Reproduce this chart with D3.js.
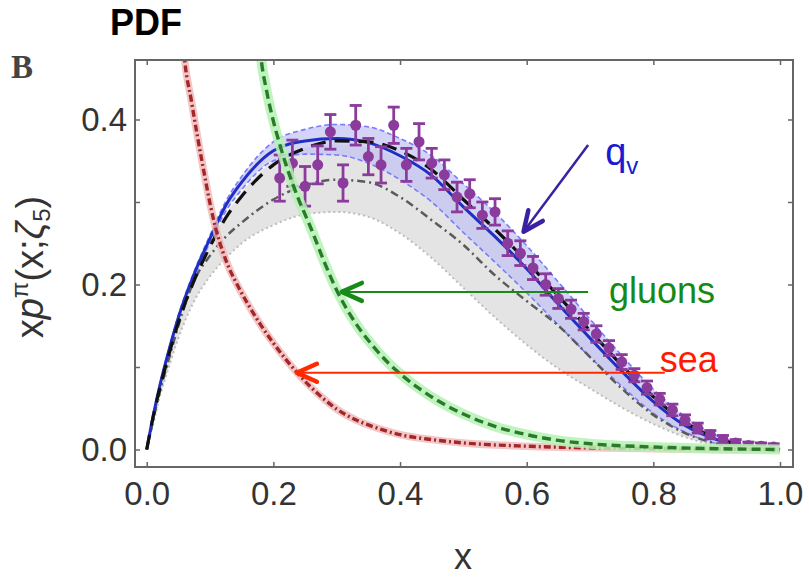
<!DOCTYPE html>
<html><head><meta charset="utf-8">
<script src="https://cdn.jsdelivr.net/npm/d3@7"></script>
<style>body{margin:0;background:#fff}svg{display:block}</style>
</head><body><svg id="c" width="809" height="581"></svg>
<script>
// ---------- data ----------
const xTicks = [0, 0.2, 0.4, 0.6, 0.8, 1.0];
const xTickLabels = ["0.0", "0.2", "0.4", "0.6", "0.8", "1.0"];
const yTicks = [0, 0.1, 0.2, 0.3, 0.4];
const yTickLabels = ["0.0", "", "0.2", "", "0.4"];

// common x grid for valence curves / bands
const gridX = [0, 0.01, 0.02, 0.035, 0.05, 0.075, 0.1, 0.125, 0.15, 0.2, 0.25, 0.3, 0.35, 0.4, 0.45, 0.5, 0.55, 0.6, 0.65, 0.7, 0.75, 0.8, 0.85, 0.9, 0.95, 1.0];
const qvY     = [0, 0.040, 0.075, 0.120, 0.160, 0.213, 0.256, 0.296, 0.324, 0.362, 0.374, 0.377, 0.372, 0.356, 0.332, 0.294, 0.258, 0.219, 0.176, 0.135, 0.095, 0.058, 0.029, 0.012, 0.003, 0];
const qvUpper = [0, 0.041, 0.077, 0.122, 0.163, 0.216, 0.260, 0.301, 0.331, 0.373, 0.388, 0.394, 0.391, 0.377, 0.356, 0.322, 0.287, 0.247, 0.203, 0.158, 0.114, 0.073, 0.040, 0.017, 0.005, 0];
const qvLower = [0, 0.039, 0.073, 0.117, 0.157, 0.209, 0.251, 0.289, 0.315, 0.350, 0.358, 0.357, 0.347, 0.327, 0.300, 0.263, 0.227, 0.190, 0.151, 0.112, 0.077, 0.044, 0.021, 0.007, 0.001, 0];
const blackY  = [0, 0.039, 0.072, 0.115, 0.154, 0.205, 0.246, 0.281, 0.307, 0.345, 0.365, 0.374, 0.373, 0.362, 0.339, 0.303, 0.267, 0.228, 0.186, 0.144, 0.102, 0.064, 0.033, 0.014, 0.004, 0];
const greyY   = [0, 0.035, 0.068, 0.110, 0.150, 0.205, 0.235, 0.258, 0.275, 0.303, 0.320, 0.327, 0.324, 0.306, 0.278, 0.248, 0.211, 0.180, 0.150, 0.112, 0.074, 0.042, 0.020, 0.007, 0.002, 0];
const greyUpper = [0, 0.040, 0.074, 0.118, 0.156, 0.208, 0.250, 0.285, 0.312, 0.350, 0.366, 0.370, 0.366, 0.352, 0.328, 0.292, 0.256, 0.217, 0.176, 0.134, 0.094, 0.058, 0.029, 0.011, 0.003, 0];
const greyLower = [0, 0.030, 0.062, 0.100, 0.135, 0.180, 0.210, 0.232, 0.250, 0.272, 0.285, 0.288, 0.282, 0.262, 0.232, 0.196, 0.160, 0.127, 0.098, 0.074, 0.051, 0.031, 0.015, 0.005, 0.001, 0];

// sea
const seaX = [0.055, 0.06, 0.07, 0.08, 0.09, 0.1, 0.11, 0.12, 0.13, 0.14, 0.16, 0.18, 0.2, 0.22, 0.24, 0.26, 0.28, 0.3, 0.33, 0.36, 0.4, 0.45, 0.5, 0.6, 0.7, 0.8, 0.9, 1.0];
const seaY = [0.52, 0.472, 0.425, 0.380, 0.338, 0.298, 0.265, 0.240, 0.220, 0.204, 0.176, 0.151, 0.129, 0.109, 0.091, 0.075, 0.061, 0.049, 0.036, 0.027, 0.018, 0.012, 0.008, 0.004, 0.002, 0.001, 0.0003, 0];

// gluons
const gluX = [0.175, 0.18, 0.19, 0.2, 0.21, 0.22, 0.23, 0.24, 0.25, 0.26, 0.28, 0.3, 0.32, 0.34, 0.36, 0.38, 0.4, 0.43, 0.46, 0.5, 0.55, 0.6, 0.65, 0.7, 0.8, 0.9, 1.0];
const gluY = [0.52, 0.478, 0.432, 0.398, 0.370, 0.345, 0.323, 0.303, 0.285, 0.267, 0.228, 0.193, 0.165, 0.142, 0.123, 0.106, 0.092, 0.074, 0.059, 0.043, 0.028, 0.018, 0.011, 0.007, 0.003, 0.001, 0];

// data points
const ptX = [0.21, 0.23, 0.25, 0.27, 0.29, 0.31, 0.33, 0.35, 0.37, 0.39, 0.41, 0.43, 0.45, 0.47, 0.49, 0.51, 0.53, 0.55, 0.57, 0.59, 0.61, 0.63, 0.65, 0.67, 0.69, 0.71, 0.73, 0.75, 0.77, 0.79, 0.81, 0.83, 0.85, 0.87, 0.89, 0.91, 0.93, 0.95, 0.97, 0.99];
const ptY = [0.329, 0.347, 0.319, 0.345, 0.385, 0.323, 0.393, 0.355, 0.345, 0.393, 0.345, 0.373, 0.347, 0.333, 0.306, 0.310, 0.284, 0.288, 0.250, 0.238, 0.220, 0.200, 0.183, 0.170, 0.155, 0.140, 0.123, 0.106, 0.090, 0.075, 0.061, 0.048, 0.036, 0.026, 0.018, 0.012, 0.008, 0.005, 0.004, 0.003];
const ptErr = [0.028, 0.028, 0.024, 0.023, 0.021, 0.022, 0.024, 0.022, 0.022, 0.022, 0.020, 0.022, 0.018, 0.018, 0.018, 0.017, 0.016, 0.016, 0.015, 0.015, 0.014, 0.013, 0.012, 0.011, 0.010, 0.010, 0.009, 0.009, 0.008, 0.008, 0.007, 0.007, 0.006, 0.006, 0.005, 0.005, 0.004, 0.004, 0.004, 0.004];

// annotations (data coordinates)
const qvArrow = {from: [0.697, 0.369], to: [0.595, 0.264]};
const gluArrow = {from: [0.697, 0.191], to: [0.308, 0.191]};
const seaArrow = {from: [0.818, 0.093], to: [0.237, 0.093]};

// ---------- drawing ----------
const L = 135, R = 793, T = 60, B = 467;
const svg = d3.select("#c");
const x = d3.scaleLinear().domain([-0.0185, 1.0205]).range([L, R]);
const y = d3.scaleLinear().domain([-0.0212, 0.4721]).range([B, T]);
const font = "'Liberation Sans', Arial, Helvetica, sans-serif";

svg.append("defs").append("clipPath").attr("id", "clip")
  .append("rect").attr("x", L).attr("y", T).attr("width", R - L).attr("height", B - T);

const plot = svg.append("g").attr("clip-path", "url(#clip)");

const bandArea = (up, lo) => d3.area()
  .x((d, i) => x(gridX[i])).y0((d, i) => y(lo[i])).y1((d, i) => y(up[i]))
  .curve(d3.curveMonotoneX)(gridX);
const gridLine = ys => d3.line().x((d, i) => x(gridX[i])).y((d, i) => y(ys[i])).curve(d3.curveMonotoneX)(gridX);
const xyLine = (xs, ys) => d3.line().x((d, i) => x(xs[i])).y((d, i) => y(ys[i])).curve(d3.curveMonotoneX)(xs);

// grey band
plot.append("path").attr("d", bandArea(greyUpper, greyLower)).attr("fill", "#e4e4e4");
plot.append("path").attr("d", gridLine(greyLower)).attr("fill", "none")
  .attr("stroke", "#bdbdbd").attr("stroke-width", 2).attr("stroke-dasharray", "2,3");

// blue band
plot.append("path").attr("d", bandArea(qvUpper, qvLower)).attr("fill", "#c2c2f4").attr("opacity", 0.7);
[qvUpper, qvLower].forEach(a => plot.append("path").attr("d", gridLine(a)).attr("fill", "none")
  .attr("stroke", "#7a7aff").attr("stroke-width", 1.6).attr("stroke-dasharray", "5,3"));

// grey dash-dot
plot.append("path").attr("d", gridLine(greyY)).attr("fill", "none")
  .attr("stroke", "#5a5a5a").attr("stroke-width", 2.5).attr("stroke-dasharray", "8,4,2,4");

// blue solid
plot.append("path").attr("d", gridLine(qvY)).attr("fill", "none")
  .attr("stroke", "#1f2fc4").attr("stroke-width", 3);
// black dashed
plot.append("path").attr("d", gridLine(blackY)).attr("fill", "none")
  .attr("stroke", "#111").attr("stroke-width", 3.2).attr("stroke-dasharray", "15,9");

// data points
const pts = plot.append("g").attr("fill", "#8a3b9c").attr("stroke", "#8a3b9c");
ptX.forEach((px, i) => {
  const cx = x(px), cy = y(ptY[i]), y1 = y(ptY[i] + ptErr[i]), y0 = y(ptY[i] - ptErr[i]);
  pts.append("line").attr("x1", cx).attr("x2", cx).attr("y1", y0).attr("y2", y1).attr("stroke-width", 2.8);
  pts.append("line").attr("x1", cx - 6).attr("x2", cx + 6).attr("y1", y1).attr("y2", y1).attr("stroke-width", 2.8);
  pts.append("line").attr("x1", cx - 6).attr("x2", cx + 6).attr("y1", y0).attr("y2", y0).attr("stroke-width", 2.8);
  pts.append("circle").attr("cx", cx).attr("cy", cy).attr("r", 5.5).attr("stroke", "none");
});

// sea
plot.append("path").attr("d", xyLine(seaX, seaY)).attr("fill", "none")
  .attr("stroke", "#efb8b8").attr("stroke-width", 7.5).attr("opacity", 0.8);
plot.append("path").attr("d", xyLine(seaX, seaY)).attr("fill", "none")
  .attr("stroke", "#a52626").attr("stroke-width", 3.4).attr("stroke-dasharray", "7,3,2,3");
// gluons
plot.append("path").attr("d", xyLine(gluX, gluY)).attr("fill", "none")
  .attr("stroke", "#b4f2b4").attr("stroke-width", 10).attr("opacity", 0.85);
plot.append("path").attr("d", xyLine(gluX, gluY)).attr("fill", "none")
  .attr("stroke", "#2b7a2b").attr("stroke-width", 3.4).attr("stroke-dasharray", "9,5");

// frame + ticks
const axStyle = g => {
  g.select(".domain").remove();
  g.selectAll(".tick line").attr("stroke", "#666").attr("stroke-width", 1.5);
  g.selectAll(".tick text").attr("font-family", font).attr("font-size", 33).attr("fill", "#333");
};
svg.append("g").attr("transform", `translate(0,${B})`)
  .call(d3.axisBottom(x).tickValues(xTicks).tickSize(-5).tickPadding(15).tickFormat((d, i) => xTickLabels[i])).call(axStyle);
svg.append("g").attr("transform", `translate(0,${T})`)
  .call(d3.axisTop(x).tickValues(xTicks).tickSize(-5).tickFormat("")).call(axStyle);
svg.append("g").attr("transform", `translate(${L},0)`)
  .call(d3.axisLeft(y).tickValues(yTicks).tickSize(-5).tickPadding(8).tickFormat((d, i) => yTickLabels[i])).call(axStyle);
svg.append("g").attr("transform", `translate(${R},0)`)
  .call(d3.axisRight(y).tickValues(yTicks).tickSize(-5).tickFormat("")).call(axStyle);
svg.append("rect").attr("x", L).attr("y", T).attr("width", R - L).attr("height", B - T)
  .attr("fill", "none").attr("stroke", "#666").attr("stroke-width", 2);

// axis titles
svg.append("text").attr("x", 463).attr("y", 569).attr("text-anchor", "middle")
  .attr("font-family", font).attr("font-size", 36).attr("fill", "#333").text("x");
const yl = svg.append("text").attr("transform", "translate(43,267) rotate(-90)")
  .attr("text-anchor", "middle").attr("font-family", font).attr("font-size", 38).attr("fill", "#333");
yl.append("tspan").text("x");
yl.append("tspan").attr("font-style", "italic").text("p");
yl.append("tspan").attr("font-size", 24).attr("dy", -15).text("π");
yl.append("tspan").attr("dy", 15).text("(x;");
yl.append("tspan").attr("font-style", "italic").text("ζ");
yl.append("tspan").attr("font-size", 24).attr("dy", 7).text("5");
yl.append("tspan").attr("dy", -7).text(")");

// title & panel letter
svg.append("text").attr("x", 110).attr("y", 35).attr("font-family", font).attr("font-weight", "bold")
  .attr("font-size", 36).attr("fill", "#000").text("PDF");
svg.append("text").attr("x", 11).attr("y", 78).attr("font-family", "'Liberation Serif', 'Times New Roman', serif")
  .attr("font-weight", "bold").attr("font-size", 33).attr("fill", "#444").text("B");

// annotations
function arrow(a, color, w) {
  const x1 = x(a.from[0]), y1 = y(a.from[1]), x2 = x(a.to[0]), y2 = y(a.to[1]);
  svg.append("line").attr("x1", x1).attr("y1", y1).attr("x2", x2).attr("y2", y2)
    .attr("stroke", color).attr("stroke-width", w);
  const ang = Math.atan2(y1 - y2, x1 - x2), len = 22, sp = 0.42;
  const p = [[x2 + len * Math.cos(ang + sp), y2 + len * Math.sin(ang + sp)], [x2, y2],
             [x2 + len * Math.cos(ang - sp), y2 + len * Math.sin(ang - sp)]];
  svg.append("path").attr("d", d3.line()(p)).attr("fill", "none").attr("stroke", color)
    .attr("stroke-width", 4.5).attr("stroke-linecap", "round").attr("stroke-linejoin", "round");
}
arrow(qvArrow, "#3a22a2", 2.5);
arrow(gluArrow, "#178a17", 2);
arrow(seaArrow, "#ff2a00", 2);

const qt = svg.append("text").attr("x", x(0.724)).attr("y", y(0.345)).attr("font-family", font)
  .attr("font-size", 38).attr("fill", "#1a1ad0");
qt.append("tspan").text("q");
qt.append("tspan").attr("font-size", 24).attr("dy", 9).text("v");
svg.append("text").attr("x", x(0.730)).attr("y", y(0.1776)).attr("font-family", font)
  .attr("font-size", 36).attr("fill", "#158a15").text("gluons");
svg.append("text").attr("x", x(0.810)).attr("y", y(0.094)).attr("font-family", font)
  .attr("font-size", 36).attr("fill", "#ff1a00").text("sea");
</script>
</body></html>
